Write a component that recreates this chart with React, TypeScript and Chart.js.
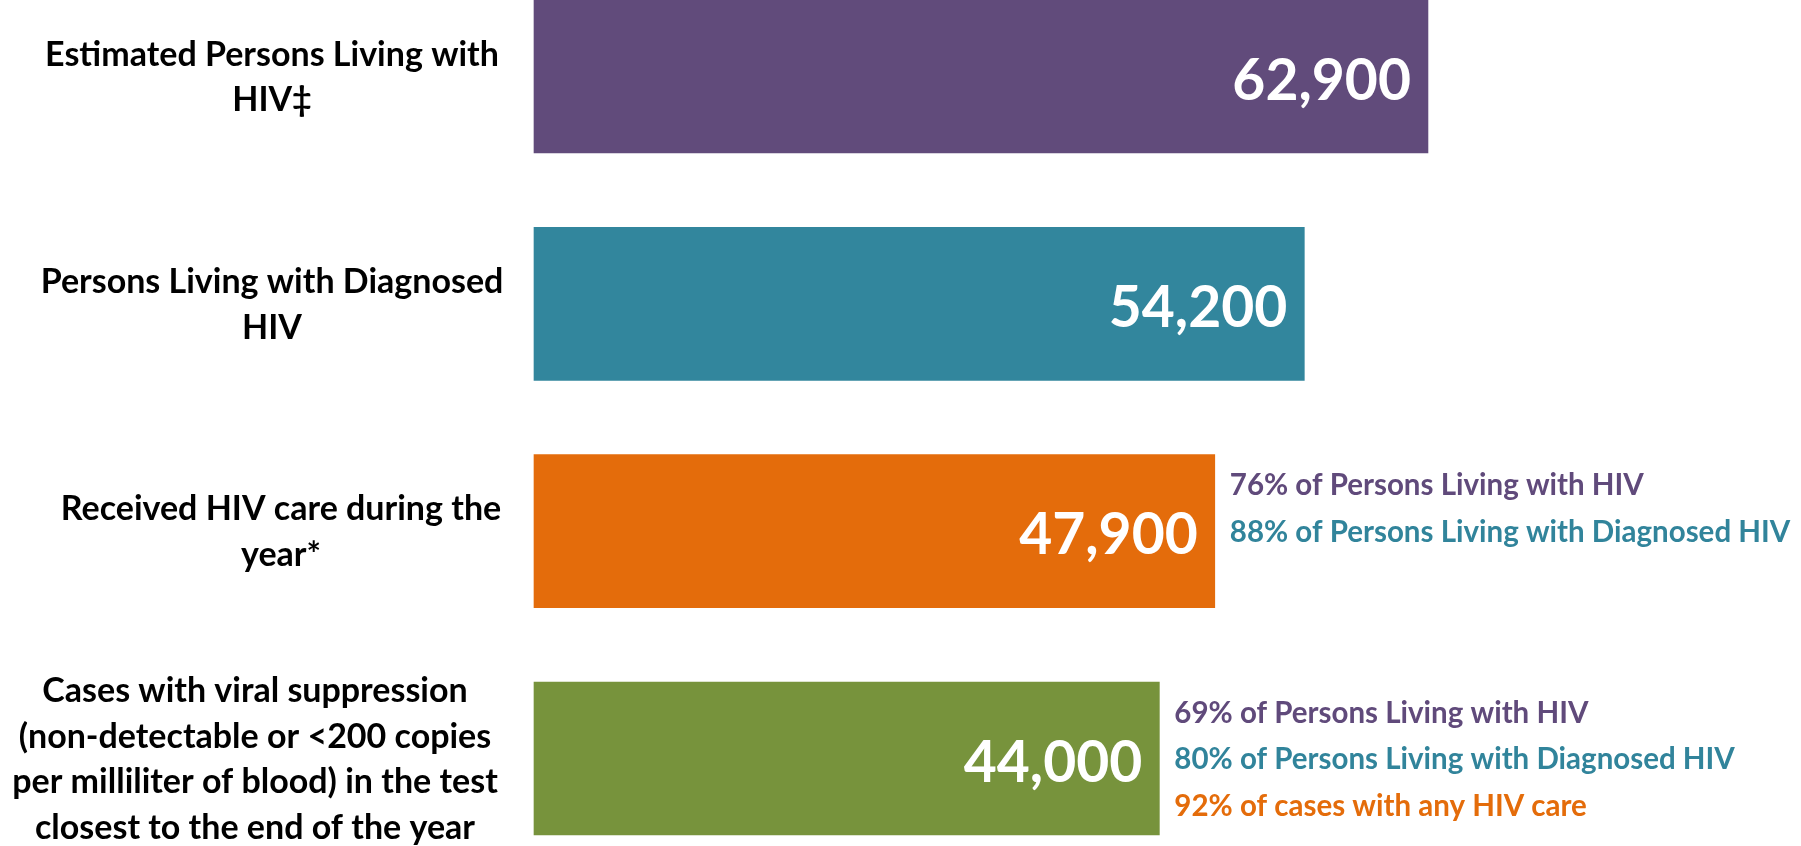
import React, { useEffect, useRef } from "react";
import { Chart, registerables } from "chart.js";

Chart.register(...registerables);

// ---------- data ----------
const categories: string[][] = [
  ["Estimated Persons Living with", "HIV‡"],
  ["Persons Living with Diagnosed", "HIV"],
  ["Received HIV care during the", "year*"],
  [
    "Cases with viral suppression",
    "(non-detectable or <200 copies",
    "per milliliter of blood) in the test",
    "closest to the end of the year",
  ],
];
const values: number[] = [62900, 54200, 47900, 44000];
const valueLabels: string[] = ["62,900", "54,200", "47,900", "44,000"];
const notes: string[][] = [
  [],
  [],
  ["76% of Persons Living with HIV", "88% of Persons Living with Diagnosed HIV"],
  [
    "69% of Persons Living with HIV",
    "80% of Persons Living with Diagnosed HIV",
    "92% of cases with any HIV care",
  ],
];

// ---------- styles ----------
const barColors = ["#614B7B", "#32869D", "#E46C0B", "#77933C"];
const noteColors = ["#604A7B", "#31849B", "#E46C0A"];
const labelCenterX = [272, 272, 281, 255];
const FONT = "Lato";

const annotatePlugin = {
  id: "annotate",
  afterDatasetsDraw(chart: any) {
    const ctx = chart.ctx as CanvasRenderingContext2D;
    const meta = chart.getDatasetMeta(0);
    ctx.save();
    meta.data.forEach((bar: any, i: number) => {
      const cy = bar.y;
      const xEnd = bar.x;
      // value label inside bar
      ctx.font = `bold 57px ${FONT}`;
      ctx.fillStyle = "#FFFFFF";
      ctx.textAlign = "right";
      ctx.textBaseline = "alphabetic";
      ctx.fillText(valueLabels[i], xEnd - 17, cy + 23);
      // notes to the right
      ctx.font = `bold 29.5px ${FONT}`;
      ctx.textAlign = "left";
      notes[i].forEach((line, j) => {
        ctx.fillStyle = noteColors[j];
        ctx.fillText(line, xEnd + 15, cy + 10.5 + (j - 1) * 46.5);
      });
      // category label on the left
      ctx.font = `bold 34px ${FONT}`;
      ctx.fillStyle = "#000000";
      ctx.textAlign = "center";
      const lines = categories[i];
      const n = lines.length;
      lines.forEach((line, k) => {
        ctx.fillText(line, labelCenterX[i], cy + (k - (n - 1) / 2) * 45.5 + 12);
      });
    });
    ctx.restore();
  },
};

export default function App() {
  const canvasRef = useRef<HTMLCanvasElement | null>(null);

  useEffect(() => {
    let chart: Chart | null = null;
    let cancelled = false;
    const build = () => {
      if (cancelled || !canvasRef.current) return;
      chart = new Chart(canvasRef.current, {
        type: "bar",
        data: {
          labels: categories.map((c) => c.join(" ")),
          datasets: [
            {
              data: values,
              backgroundColor: barColors,
              borderWidth: 0,
              barThickness: 153,
              clip: false as any,
            },
          ],
        },
        options: {
          indexAxis: "y",
          animation: false,
          responsive: false,
          devicePixelRatio: 1,
          layout: { padding: { left: 534, right: 130, top: 76.5, bottom: 87.5 } },
          plugins: {
            legend: { display: false },
            tooltip: { enabled: false },
          },
          scales: {
            x: { type: "linear", min: 0, max: 80000, display: false, grid: { display: false } },
            y: { type: "category", offset: false, display: false, grid: { display: false } },
          },
        },
        plugins: [annotatePlugin],
      });
    };
    const fontsReady = (document as any).fonts
      ? Promise.all([
          (document as any).fonts.load(`bold 34px ${FONT}`),
          (document as any).fonts.load(`bold 57px ${FONT}`),
        ]).catch(() => null)
      : Promise.resolve(null);
    fontsReady.then(build);
    return () => {
      cancelled = true;
      if (chart) chart.destroy();
    };
  }, []);

  return (
    <div style={{ position: "fixed", left: 0, top: 0, width: 1801, height: 846, background: "#FFFFFF" }}>
      <canvas ref={canvasRef} width={1801} height={846} style={{ display: "block", width: 1801, height: 846 }} />
    </div>
  );
}
